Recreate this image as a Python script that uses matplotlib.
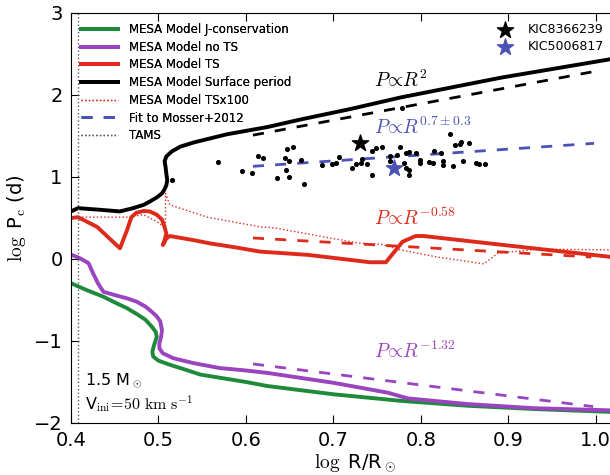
import numpy as np
import matplotlib
matplotlib.use("Agg")
import matplotlib.pyplot as plt

plt.rcParams['mathtext.fontset'] = 'cm'
plt.rcParams['font.family'] = 'DejaVu Sans'

# MESA tracks (log R, log Pc)
j_cons_x = [0.401, 0.418, 0.437, 0.452, 0.464, 0.475, 0.485, 0.492, 0.497, 0.498, 0.495, 0.493,
            0.494, 0.500, 0.513, 0.525, 0.548, 0.600, 0.625, 0.700, 0.777, 0.854, 0.930, 1.030]
j_cons_y = [-0.30, -0.38, -0.46, -0.54, -0.60, -0.67, -0.74, -0.82, -0.89, -0.95, -1.05, -1.13,
            -1.19, -1.24, -1.29, -1.33, -1.41, -1.50, -1.55, -1.65, -1.73, -1.79, -1.83, -1.87]

no_ts_x = [0.401, 0.410, 0.420, 0.425, 0.431, 0.437, 0.450, 0.464, 0.475, 0.485, 0.492, 0.498,
           0.502, 0.504, 0.503, 0.501, 0.501, 0.505, 0.517, 0.540, 0.570, 0.600, 0.625, 0.700,
           0.762, 0.785, 0.854, 0.930, 1.030]
no_ts_y = [0.05, 0.01, -0.05, -0.17, -0.30, -0.40, -0.44, -0.48, -0.52, -0.58, -0.64, -0.70,
           -0.76, -0.87, -0.95, -1.03, -1.09, -1.15, -1.21, -1.27, -1.33, -1.36, -1.39, -1.51,
           -1.63, -1.70, -1.77, -1.82, -1.85]

ts_x = [0.401, 0.408, 0.430, 0.456, 0.464, 0.469, 0.475, 0.483, 0.490, 0.498, 0.504, 0.507,
        0.509, 0.507, 0.505, 0.509, 0.513, 0.540, 0.559, 0.589, 0.616, 0.671, 0.742, 0.760,
        0.779, 0.794, 0.803, 0.895, 1.030]
ts_y = [0.50, 0.51, 0.39, 0.13, 0.35, 0.51, 0.565, 0.585, 0.58, 0.54, 0.48, 0.39,
        0.31, 0.23, 0.17, 0.25, 0.28, 0.23, 0.19, 0.14, 0.09, 0.05, -0.04, -0.04,
        0.21, 0.28, 0.28, 0.17, 0.01]

surf_x = [0.401, 0.408, 0.433, 0.456, 0.471, 0.483, 0.490, 0.498, 0.504, 0.507, 0.509, 0.510,
          0.509, 0.508, 0.507, 0.509, 0.515, 0.525, 0.540, 0.559, 0.578, 0.625, 0.662, 0.720,
          0.777, 0.891, 1.030]
surf_y = [0.585, 0.62, 0.60, 0.58, 0.62, 0.66, 0.70, 0.75, 0.80, 0.85, 0.90, 0.96,
          1.04, 1.13, 1.19, 1.25, 1.31, 1.37, 1.42, 1.47, 1.52, 1.61, 1.70, 1.83,
          1.97, 2.21, 2.46]

ts100_x = [0.400, 0.466, 0.483, 0.499, 0.508, 0.508, 0.513, 0.556, 0.617, 0.632, 0.728, 0.754,
           0.777, 0.818, 0.872, 0.888, 0.934, 1.030]
ts100_y = [0.51, 0.51, 0.54, 0.45, 0.38, 0.80, 0.66, 0.51, 0.39, 0.38, 0.195, 0.18,
           0.11, 0.025, -0.06, 0.07, 0.12, 0.11]

# power-law guide lines (end points)
fit_r2_x, fit_r2_y = [0.608, 0.995], [1.51, 2.28]
fit_mosser_x, fit_mosser_y = [0.608, 0.998], [1.13, 1.41]
fit_ts_x, fit_ts_y = [0.608, 0.995], [0.256, 0.024]
fit_nots_x, fit_nots_y = [0.608, 0.997], [-1.28, -1.80]

tams_x = 0.408

# Mosser+2012 core rotation
obs_x = [0.620, 0.635, 0.645, 0.646, 0.649, 0.649, 0.654, 0.663, 0.666, 0.687, 0.698, 0.703,
         0.706, 0.721, 0.726, 0.731, 0.733, 0.738, 0.744, 0.744, 0.749, 0.756, 0.765, 0.765,
         0.776, 0.773, 0.781, 0.783, 0.783, 0.786, 0.786, 0.787, 0.795, 0.799, 0.799, 0.809,
         0.814, 0.815, 0.823, 0.825, 0.825, 0.833, 0.837, 0.839, 0.845, 0.846, 0.848, 0.855,
         0.863, 0.867, 0.873, 0.568, 0.516, 0.595, 0.607, 0.614, 0.647, 0.779]
obs_y = [1.235, 0.99, 1.23, 1.09, 1.00, 1.19, 1.36, 1.21, 0.92, 1.15, 1.155, 1.17,
         1.24, 1.11, 1.16, 1.17, 1.22, 1.155, 1.02, 1.32, 1.35, 1.37, 1.25, 1.19,
         1.36, 1.27, 1.17, 1.29, 1.11, 1.08, 1.02, 1.30, 1.29, 1.21, 1.17, 1.18,
         1.17, 1.32, 1.29, 1.20, 1.15, 1.52, 1.13, 1.39, 1.40, 1.43, 1.20, 1.41,
         1.17, 1.16, 1.16, 1.18, 0.96, 1.07, 1.05, 1.26, 1.34, 1.84]

star_names = ['KIC8366239', 'KIC5006817']
star_x = [0.730, 0.769]
star_y = [1.42, 1.11]

green = '#1e8a3a'
purple = '#9a44c0'
red = '#dd2a1b'
blue = '#4a52b5'

fig = plt.figure(figsize=(6.1, 4.75), dpi=100)
ax = fig.add_axes([0.1164, 0.1095, 0.932, 0.8632])

l1, = ax.plot(j_cons_x, j_cons_y, color=green, lw=2.8, label='MESA Model J-conservation')
l2, = ax.plot(no_ts_x, no_ts_y, color=purple, lw=2.8, label='MESA Model no TS')
l3, = ax.plot(ts_x, ts_y, color=red, lw=2.8, label='MESA Model TS')
l4, = ax.plot(surf_x, surf_y, color='black', lw=2.8, label='MESA Model Surface period')
l5, = ax.plot(ts100_x, ts100_y, color=red, lw=1.0, ls=':', label='MESA Model TSx100')
l6, = ax.plot(fit_mosser_x, fit_mosser_y, color=blue, lw=2.0, ls='--', dashes=(4, 4),
              label='Fit to Mosser+2012')
l7 = ax.axvline(tams_x, color='0.35', lw=1.0, ls=':', label='TAMS')

ax.plot(fit_r2_x, fit_r2_y, color='black', lw=2.0, ls='--', dashes=(4, 4))
ax.plot(fit_ts_x, fit_ts_y, color=red, lw=2.0, ls='--', dashes=(4, 4))
ax.plot(fit_nots_x, fit_nots_y, color=purple, lw=2.0, ls='--', dashes=(4, 4))

ax.scatter(obs_x, obs_y, s=7, color='black', zorder=3)
s1 = ax.scatter(star_x[0], star_y[0], marker='*', s=150, color='black', zorder=4)
s2 = ax.scatter(star_x[1], star_y[1], marker='*', s=150, color=blue, zorder=4)

leg1 = ax.legend(handles=[l1, l2, l3, l4, l5, l6, l7], loc='upper left', frameon=False,
                 fontsize=8.5, handlelength=3.1, handletextpad=1.0, labelspacing=0.4,
                 borderaxespad=0.45)
ax.add_artist(leg1)
fig.legend([s1, s2], star_names, loc='upper right', frameon=False, fontsize=9,
           bbox_to_anchor=(1.008, 0.975), handletextpad=0.8, labelspacing=0.3)

ax.text(0.746, 2.18, r'$P\!\propto\!R^{2}$', color='black', fontsize=14, va='center')
ax.text(0.746, 1.60, r'$P\!\propto\!R^{0.7\pm0.3}$', color=blue, fontsize=14, va='center')
ax.text(0.746, 0.50, r'$P\!\propto\!R^{-0.58}$', color=red, fontsize=14, va='center')
ax.text(0.746, -1.13, r'$P\!\propto\!R^{-1.32}$', color=purple, fontsize=14, va='center')

ax.text(0.416, -1.49, r'1.5 M$_\odot$', fontsize=11.5, va='center')
ax.text(0.416, -1.77, r'V$_{\rm ini}\!=\!50\ {\rm km\ s^{-1}}$', fontsize=11.5, va='center')

ax.set_xlim(0.4, 1.05)
ax.set_ylim(-2, 3)
ax.set_xticks([0.4, 0.5, 0.6, 0.7, 0.8, 0.9, 1.0])
ax.set_yticks([-2, -1, 0, 1, 2, 3])
ax.tick_params(direction='in', top=True, right=True, labelsize=14, length=6, pad=6)
ax.set_xlabel(r'$\log$ R/R$_\odot$', fontsize=14, labelpad=2)
ax.set_ylabel(r'$\log$ P$_{\rm c}$ (d)', fontsize=14, labelpad=4)

fig.savefig('out.png', dpi=100)
